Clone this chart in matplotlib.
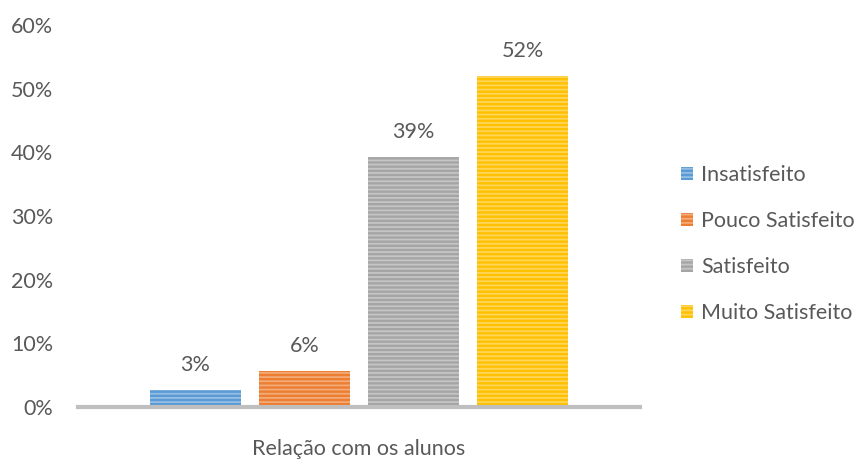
import matplotlib
matplotlib.use("Agg")
import matplotlib.pyplot as plt
import matplotlib.colors as mcolors
import numpy as np

category = "Relação com os alunos"
series = ["Insatisfeito", "Pouco Satisfeito", "Satisfeito", "Muito Satisfeito"]
values = [0.027, 0.056, 0.393, 0.52]
colors = ["#5B9BD5", "#ED7D31", "#A5A5A5", "#FFC000"]
yticks = [0, 0.1, 0.2, 0.3, 0.4, 0.5, 0.6]

plt.rcParams['font.family'] = ['Lato', 'DejaVu Sans']
plt.rcParams['hatch.linewidth'] = 1.3
txt = "#595959"
fs = 15.5

fig = plt.figure(figsize=(8.58, 4.59), dpi=100)
ax = fig.add_axes([78/858, 52/459, 562/858, 382/459])

step = 109/562
width = 91/562
offsets = (np.arange(len(series)) - (len(series)-1)/2) * step
handles = []
for i, (s, v, c) in enumerate(zip(series, values, colors)):
    light = np.array(mcolors.to_rgb(c)) * 0.65 + 0.35
    b = ax.bar(offsets[i], v, width=width, color=c, edgecolor=tuple(light),
               linewidth=0, hatch='----', label=s)
    handles.append(b)
    ax.annotate(f"{v:.0%}", (offsets[i], v), xytext=(0, 18), textcoords='offset points',
                ha='center', va='center', fontsize=fs, color=txt)

ax.set_xlim(-0.5, 0.5)
ax.set_ylim(0, 0.6)
ax.set_yticks(yticks)
ax.set_yticklabels([f"{t:.0%}" for t in yticks], fontsize=fs, color=txt)
ax.tick_params(axis='y', length=0, pad=18)
ax.set_xticks([0])
ax.set_xticklabels([category], fontsize=fs, color=txt)
ax.tick_params(axis='x', length=0, pad=23)
for sp in ['top', 'right', 'left']:
    ax.spines[sp].set_visible(False)
ax.spines['bottom'].set_color('#BFBFBF')
ax.spines['bottom'].set_linewidth(3)

leg = fig.legend(handles=handles, labels=series, loc='center left',
                 bbox_to_anchor=(681/858, 215/459), frameon=False, fontsize=fs,
                 borderpad=0, borderaxespad=0,
                 handlelength=0.55, handleheight=0.55, handletextpad=0.37,
                 labelspacing=1.2, labelcolor=txt)

fig.savefig("out.png", dpi=100)
